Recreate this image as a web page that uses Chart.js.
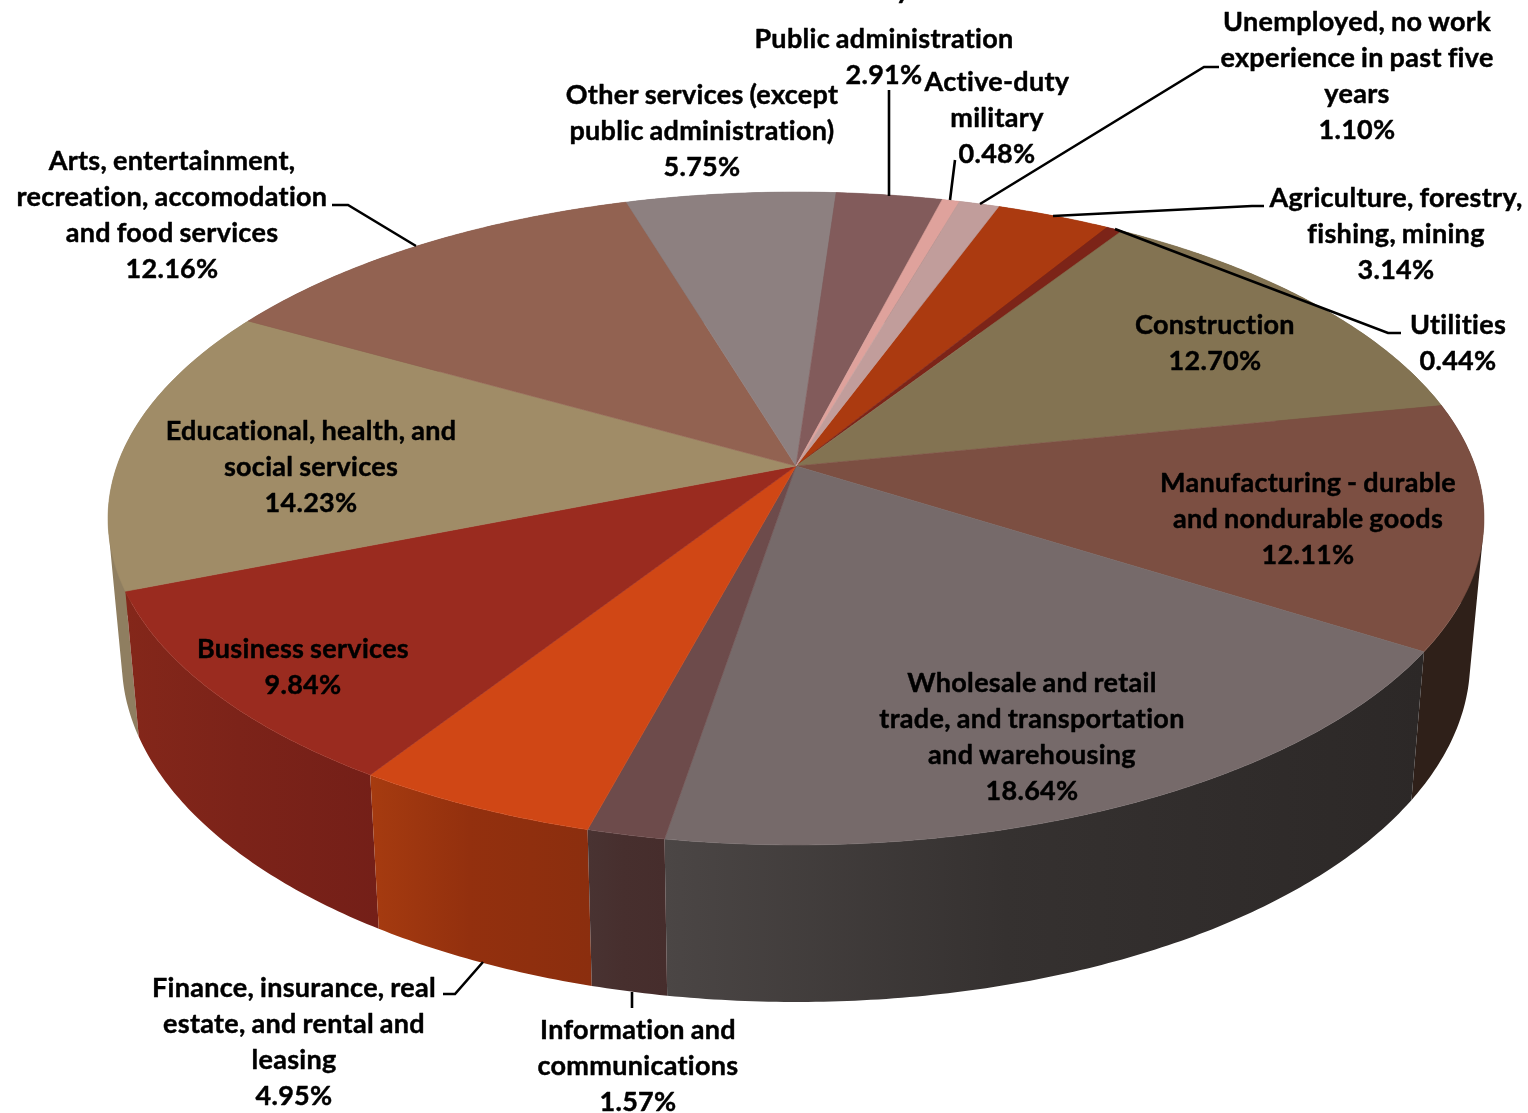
<!DOCTYPE html>
<html><head><meta charset="utf-8">
<style>html,body{margin:0;padding:0;background:#fff;overflow:hidden}canvas{display:block}</style>
<script src="https://cdn.jsdelivr.net/npm/chart.js@4/dist/chart.umd.min.js"></script>
</head><body><canvas id="c" width="1528" height="1113"></canvas>
<script>
const categories=["Agriculture, forestry, fishing, mining","Utilities","Construction","Manufacturing - durable and nondurable goods","Wholesale and retail trade, and transportation and warehousing","Information and communications","Finance, insurance, real estate, and rental and leasing","Business services","Educational, health, and social services","Arts, entertainment, recreation, accomodation and food services","Other services (except public administration)","Public administration","Active-duty military","Unemployed, no work experience in past five years"];
const shares=[3.14,0.44,12.70,12.11,18.64,1.57,4.95,9.84,14.23,12.16,5.75,2.91,0.48,1.10];
const labelLines=[["Agriculture, forestry,","fishing, mining"],["Utilities"],["Construction"],["Manufacturing - durable","and nondurable goods"],["Wholesale and retail","trade, and transportation","and warehousing"],["Information and","communications"],["Finance, insurance, real","estate, and rental and","leasing"],["Business services"],["Educational, health, and","social services"],["Arts, entertainment,","recreation, accomodation","and food services"],["Other services (except","public administration)"],["Public administration"],["Active-duty","military"],["Unemployed, no work","experience in past five","years"]];
const topColors=["#ab3a10","#7c2418","#837352","#7c4f42","#766a6a","#6d4b4b","#d04715","#9a2b1f","#a08c67","#926251","#8d8080","#825b5b","#dfa29c","#c19d9b"];
const wallLeft=["#7a2a0c","#5a1a10","#5a4f38","#2f2019","#4b4645","#493332","#a63b10","#84271a","#8f7e60","#66443a","#625858","#5a3f3f","#a07570","#8a706e"];
const wallMid=["#7a2a0c","#5a1a10","#5a4f38","#2f2019","#353130","#472f2e","#93300e","#7c2319","#8f7e60","#66443a","#625858","#5a3f3f","#a07570","#8a706e"];
const wallRight=["#7a2a0c","#5a1a10","#5a4f38","#2f2019","#2c2827","#462d2c","#8b2e0e","#741f18","#8f7e60","#66443a","#625858","#5a3f3f","#a07570","#8a706e"];
const labelCenterX=[1396,1458,1215,1308,1032,638,294,303,311,172,702,884,997,1357];
const labelFirstY=[198,325,325,483,683,1030,988,649,431,161,95,39,82,22];
const leaders=[[[1053,216],[1252,206],[1264,206]],[[1115,229],[1388,333],[1401,333]],null,null,null,[[632,992],[632,1008]],[[483,962],[455,994],[443,994]],null,null,[[416,246],[348,205],[332,205]],null,[[889,196],[889,90]],[[950,200],[955,160]],[[980,204],[1204,67],[1219,67]]];

const CX=796,CY=466,R=679,RY=318,K=0.1608;
function topRim(a){const X=Math.cos(a),Y=Math.sin(a),w=1-K*Y;return [CX+R*X/w,CY+RY*Y/w];}
function bottomRim(a){const p=topRim(a);return [CX+0.98*(p[0]-CX),1.045*p[1]+119];}
function arcPoints(f,s,e){const n=Math.max(4,Math.ceil((e-s)/0.01)),o=[];for(let i=0;i<=n;i++)o.push(f(s+(e-s)*i/n));return o;}
function poly(ctx,pts){ctx.beginPath();pts.forEach((p,i)=>i?ctx.lineTo(p[0],p[1]):ctx.moveTo(p[0],p[1]));ctx.closePath();}
function signedArea(q){let s=0;q.forEach((p,i)=>{const n=q[(i+1)%q.length];s+=p[0]*n[1]-n[0]*p[1];});return s;}

const pie3d={id:'pie3d',beforeDatasetsDraw(chart){
  const ctx=chart.ctx,arcs=chart.getDatasetMeta(0).data;
  const order=arcs.map((a,i)=>i).sort((p,q)=>Math.sin((arcs[p].startAngle+arcs[p].endAngle)/2)-Math.sin((arcs[q].startAngle+arcs[q].endAngle)/2));
  ctx.save();
  order.forEach(i=>{
    const a=arcs[i],tp=arcPoints(topRim,a.startAngle,a.endAngle),bp=arcPoints(bottomRim,a.startAngle,a.endAngle);
    const xs=tp.concat(bp).map(p=>p[0]),x0=Math.min(...xs),x1=Math.max(...xs);
    const g=ctx.createLinearGradient(x0,0,x1,0);g.addColorStop(0,wallLeft[i]);g.addColorStop(0.45,wallMid[i]);g.addColorStop(1,wallRight[i]);
    ctx.fillStyle=g;
    ctx.beginPath();
    for(let j=0;j<tp.length-1;j++){
      let q=[tp[j],tp[j+1],bp[j+1],bp[j]];
      if(signedArea(q)<0)q=q.reverse();
      q.forEach((p,k)=>k?ctx.lineTo(p[0],p[1]):ctx.moveTo(p[0],p[1]));
      ctx.closePath();
    }
    ctx.fill('nonzero');
  });
  arcs.forEach((a,i)=>{
    poly(ctx,[[CX,CY]].concat(arcPoints(topRim,a.startAngle,a.endAngle)));
    ctx.fillStyle=topColors[i];ctx.fill();ctx.strokeStyle=topColors[i];ctx.lineWidth=0.6;ctx.stroke();
  });
  ctx.restore();
  return false;
},afterDraw(chart){
  const ctx=chart.ctx;ctx.save();
  ctx.strokeStyle='#000';ctx.lineWidth=2.6;
  leaders.forEach(l=>{if(!l)return;ctx.beginPath();l.forEach((p,i)=>i?ctx.lineTo(p[0],p[1]):ctx.moveTo(p[0],p[1]));ctx.stroke();});
  ctx.fillStyle='#000';ctx.font='bold 27px Lato';ctx.textAlign='center';ctx.textBaseline='middle';
  ctx.letterSpacing='0.3px';ctx.wordSpacing='-1px';ctx.lineWidth=0.45;ctx.lineJoin='round';
  const put=(t,x,y)=>{ctx.fillText(t,x,y);ctx.strokeText(t,x,y);};
  shares.forEach((v,i)=>{
    const lines=labelLines[i].concat([v.toFixed(2)+'%']);
    lines.forEach((t,j)=>put(t,labelCenterX[i],labelFirstY[i]+j*36.1));
  });
  put('y',903,-10);
  ctx.restore();
}};
new Chart(document.getElementById('c'),{type:'pie',data:{labels:categories,datasets:[{data:shares,backgroundColor:topColors,borderWidth:0}]},
options:{responsive:false,animation:false,rotation:20.1,layout:{padding:0},plugins:{legend:{display:false},tooltip:{enabled:false},title:{display:false}}},plugins:[pie3d]});
</script></body></html>
